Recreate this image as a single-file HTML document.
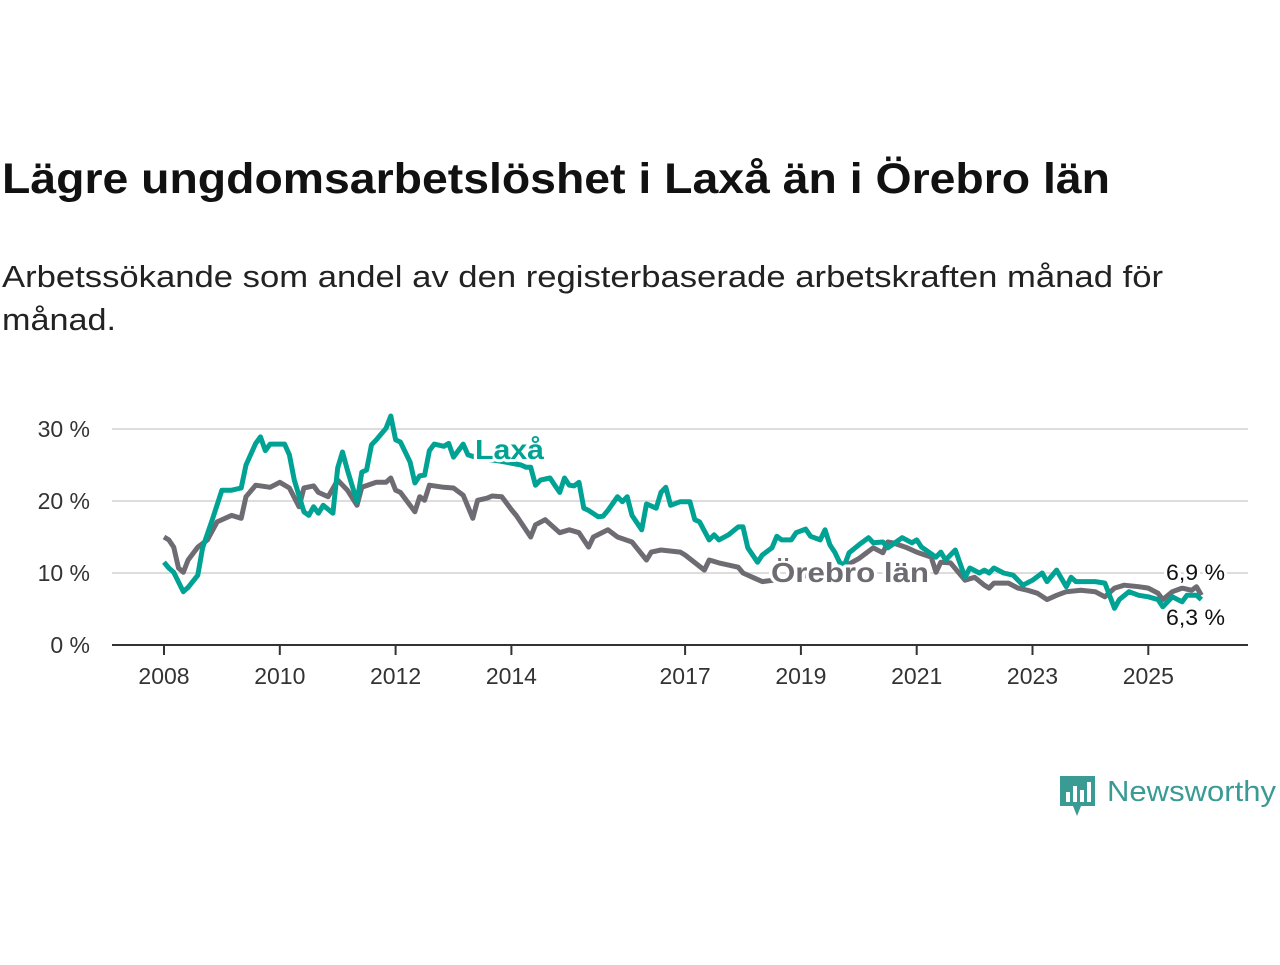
<!DOCTYPE html>
<html><head><meta charset="utf-8"><style>
body{margin:0;width:1280px;height:960px;background:#fff;font-family:"Liberation Sans",sans-serif;overflow:hidden}
</style></head><body>
<svg width="1280" height="960" xmlns="http://www.w3.org/2000/svg" font-family="Liberation Sans, sans-serif">
<text x="2" y="193" font-size="43" font-weight="bold" fill="#111" textLength="1108" lengthAdjust="spacingAndGlyphs">Lägre ungdomsarbetslöshet i Laxå än i Örebro län</text>
<text x="2" y="287" font-size="31" fill="#222" textLength="1161" lengthAdjust="spacingAndGlyphs">Arbetssökande som andel av den registerbaserade arbetskraften månad för</text>
<text x="2" y="330" font-size="31" fill="#222" textLength="114" lengthAdjust="spacingAndGlyphs">månad.</text>
<g id="grid"></g><g id="axis"></g><g id="lines"></g><g id="labels"></g>
<g>
<path d="M1060 776 h35 v30 h-14 l-4 10 l-4 -10 h-13 z" fill="#3a9a94"/>
<rect x="1066" y="792" width="4" height="10" fill="#fff"/><rect x="1073" y="786" width="4" height="16" fill="#fff"/><rect x="1080" y="790" width="4" height="12" fill="#fff"/><rect x="1087" y="782" width="4" height="20" fill="#fff"/>
<text x="1107" y="801" font-size="29" fill="#3a9a94" textLength="169" lengthAdjust="spacingAndGlyphs">Newsworthy</text></g>
</svg>
<script>
const yTicks=[0,10,20,30];
const yTickLabels=["0 %","10 %","20 %","30 %"];
const xTicks=[2008,2010,2012,2014,2017,2019,2021,2023,2025];
const laxaMonths=[0,1,2,4,5,7,8,10,12,14,16,17,19,20,21,22,25,26,27,29,30,31,32,33,35,36,37,38,40,41,42,43,44,46,47,48,49,51,52,53,54,55,56,58,59,60,62,63,65,70,74,75,76,77,78,80,81,82,83,84,85,86,87,88,90,91,92,94,95,96,97,99,100,102,103,104,105,107,109,110,111,113,114,115,117,119,120,121,123,124,126,127,128,130,131,133,134,136,137,138,139,140,141,142,144,146,147,149,150,153,155,156,157,160,161,162,164,166,167,169,170,171,172,174,176,178,180,182,183,185,187,188,189,193,195,197,198,200,202,204,206,207,209,211,212,214,215];
const laxaValues=[11.5,10.7,10.1,7.4,8,9.7,13.5,17.4,21.5,21.5,21.8,25,28,28.9,27,27.9,27.9,26.4,22.9,18.5,18,19.2,18.3,19.4,18.3,24.6,26.8,24.3,19.9,24,24.3,27.8,28.5,30.1,31.8,28.5,28.2,25.4,22.5,23.5,23.6,27,27.9,27.6,28,26.1,27.9,26.4,26,25.5,25,24.7,24.7,22.2,22.9,23.2,22.2,21.2,23.2,22.2,22.1,22.6,19,18.7,17.8,17.9,18.7,20.6,19.9,20.6,18,16,19.6,19,21.2,21.9,19.4,19.9,19.9,17.4,17.1,14.6,15.3,14.6,15.3,16.4,16.4,13.5,11.5,12.5,13.5,15.1,14.6,14.6,15.6,16.1,15.1,14.6,16,13.9,12.9,11.5,11,12.8,13.9,14.9,14.2,14.3,13.5,14.9,14.2,14.6,13.6,12.2,12.9,11.8,13.2,9.4,10.7,10,10.4,10,10.7,10,9.7,8.3,9,10,8.8,10.4,8.1,9.4,8.8,8.8,8.6,5.1,6.3,7.4,6.9,6.7,6.3,5.3,6.7,6,6.9,6.9,6.3];
const orebroMonths=[0,1,2,3,4,5,7,9,11,14,16,17,19,22,24,26,28,29,31,32,34,36,38,40,41,44,46,47,48,49,52,53,54,55,58,60,62,64,65,67,68,70,72,73,76,77,79,82,84,86,88,89,92,94,97,100,101,103,107,108,112,113,115,119,120,122,124,132,136,140,144,147,149,150,151,154,156,159,160,161,163,166,168,170,171,172,175,177,179,181,183,185,187,190,193,195,197,199,202,204,206,207,209,211,213,214,215];
const orebroValues=[15,14.6,13.6,10.7,10.1,11.8,13.6,14.6,17.1,18,17.6,20.6,22.2,21.9,22.6,21.8,19.2,21.8,22.1,21.2,20.6,22.9,21.5,19.4,21.9,22.6,22.6,23.2,21.5,21.2,18.5,20.6,20.1,22.2,21.9,21.8,20.8,17.6,20.1,20.4,20.7,20.6,18.8,18,15,16.7,17.4,15.6,16,15.6,13.6,15,16,15,14.3,11.8,12.9,13.2,12.9,12.5,10.4,11.8,11.4,10.8,10,9.4,8.8,9.5,10,10.5,12,13.5,12.8,14.3,14.2,13.5,12.9,12.2,10.1,11.5,11.4,9,9.4,8.3,7.9,8.6,8.6,7.9,7.6,7.2,6.3,6.9,7.4,7.6,7.4,6.7,7.9,8.3,8.1,7.9,7.2,6.3,7.4,7.9,7.6,8.1,6.9];
const NS="http://www.w3.org/2000/svg";
const X0=112,X1=1248;
function xm(m){return 164+m*4.825;}
function xy(year){return xm((year-2008)*12);}
function yv(v){return 645-v*7.2;}
function mk(tag,attrs,parent){const e=document.createElementNS(NS,tag);for(const k in attrs)e.setAttribute(k,attrs[k]);document.getElementById(parent).appendChild(e);return e;}
yTicks.forEach((t,i)=>{
 if(t>0){const g=mk('line',{x1:X0,x2:X1,y1:yv(t),y2:yv(t),stroke:'#ddd','stroke-width':2},'grid');
 
 }
 const l=mk('text',{x:90,y:yv(t)+8,'font-size':23,fill:'#333','text-anchor':'end'},'axis');
 l.textContent=yTickLabels[i];
 
 
});
const ax=mk('line',{x1:X0,x2:X1,y1:645,y2:645,stroke:'#333','stroke-width':2},'axis');


xTicks.forEach(t=>{
 const tk=mk('line',{x1:xy(t),x2:xy(t),y1:645,y2:655,stroke:'#333','stroke-width':2},'axis');
 
 
 const l=mk('text',{x:xy(t),y:684,'font-size':23,fill:'#333','text-anchor':'middle'},'axis');
 l.textContent=t;
 
 
});
function path(ms,vs){return ms.map((m,i)=>(i?'L':'M')+xm(m).toFixed(1)+' '+yv(vs[i]).toFixed(1)).join(' ');}
const pg=mk('path',{d:path(orebroMonths,orebroValues),fill:'none',stroke:'#6e6c72','stroke-width':5,'stroke-linejoin':'round'},'lines');


const pt=mk('path',{d:path(laxaMonths,laxaValues),fill:'none',stroke:'#00a393','stroke-width':5,'stroke-linejoin':'round'},'lines');


function lab(txt,x,y,col,size,bold,name,len){
 const t=mk('text',{x:x,y:y,'font-size':size,fill:col,'font-weight':bold?'bold':'normal',stroke:'#fff','stroke-width':6,'paint-order':'stroke','stroke-linejoin':'round'},'labels');
 if(len){t.setAttribute('textLength',len);t.setAttribute('lengthAdjust','spacingAndGlyphs');}
 t.textContent=txt;
 
 
}
lab('Laxå',475,459,'#00a393',28,true,'laxa-series-label',69);
lab('Örebro län',771,582,'#6e6c72',28,true,'orebro-series-label',158);
lab('6,9 %',1166,580,'#111',22,false,'orebro-end-value',59);
lab('6,3 %',1166,625,'#111',22,false,'laxa-end-value',59);
</script>
</body></html>
